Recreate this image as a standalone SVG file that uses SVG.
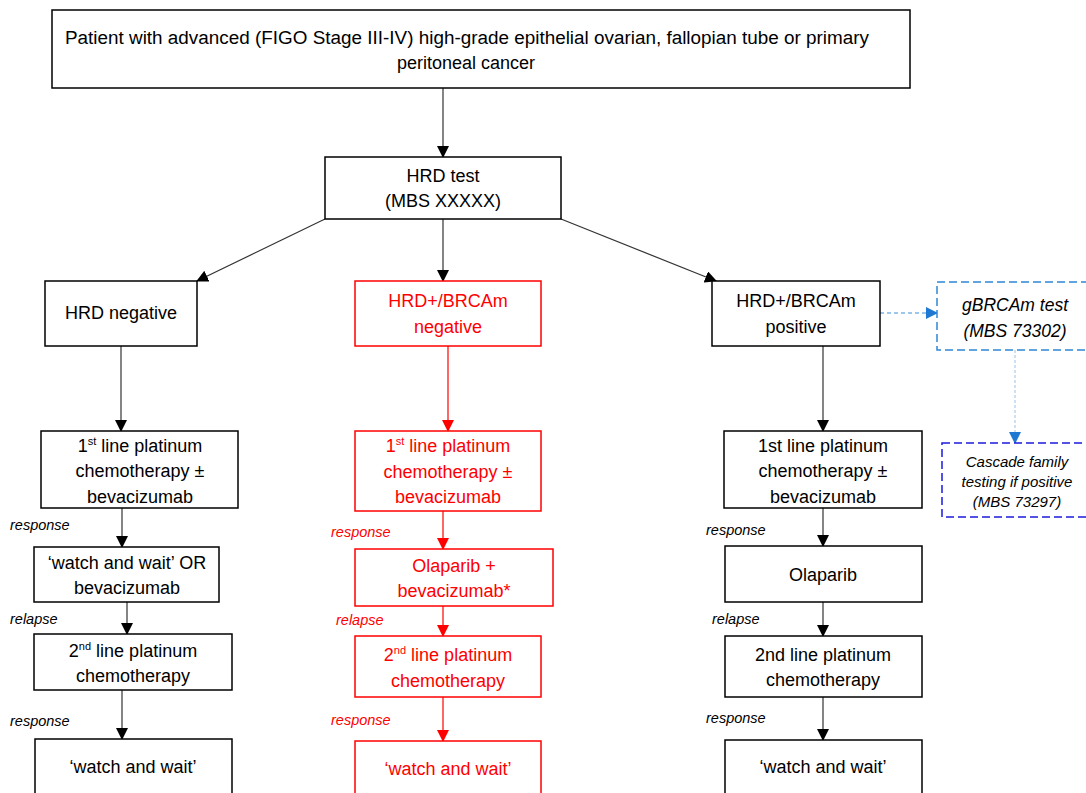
<svg xmlns="http://www.w3.org/2000/svg" width="1086" height="793" viewBox="0 0 1086 793">
<defs>
<style>
.box{fill:#fff;stroke:#000;stroke-width:1.5}
.rbox{fill:#fff;stroke:#ff0000;stroke-width:1.5}
.t{font-family:"Liberation Sans",Arial,sans-serif;font-size:18px;fill:#000;text-anchor:middle}
.rt{font-family:"Liberation Sans",Arial,sans-serif;font-size:18px;fill:#ff0000;text-anchor:middle}
.lab{font-family:"Liberation Sans",Arial,sans-serif;font-size:14.5px;font-style:italic;fill:#000}
.rlab{font-family:"Liberation Sans",Arial,sans-serif;font-size:14.5px;font-style:italic;fill:#ff0000}
.it{font-family:"Liberation Sans",Arial,sans-serif;font-style:italic;fill:#000;text-anchor:middle}
.ln{stroke:#333;stroke-width:1.2;fill:none}
.rln{stroke:#ff0000;stroke-width:1.2;fill:none}
.sup{font-size:11px}
</style>
<marker id="ah" markerWidth="12" markerHeight="12" refX="11" refY="6" orient="auto" markerUnits="userSpaceOnUse">
<path d="M0,0 L12,6 L0,12 Z" fill="#000"/>
</marker>
<marker id="rah" markerWidth="12" markerHeight="12" refX="11" refY="6" orient="auto" markerUnits="userSpaceOnUse">
<path d="M0,0 L12,6 L0,12 Z" fill="#ff0000"/>
</marker>
<marker id="bah" markerWidth="12" markerHeight="12" refX="11" refY="6" orient="auto" markerUnits="userSpaceOnUse">
<path d="M0,0 L12,6 L0,12 Z" fill="#1f78d1"/>
</marker>
</defs>
<rect width="1086" height="793" fill="#fff"/>

<g id="connectors">
<line class="ln" x1="443" y1="88" x2="443" y2="157" marker-end="url(#ah)"/>
<line class="ln" x1="325" y1="219" x2="197" y2="281" marker-end="url(#ah)"/>
<line class="ln" x1="443" y1="219" x2="443" y2="281" marker-end="url(#ah)"/>
<line class="ln" x1="561" y1="219" x2="716" y2="281" marker-end="url(#ah)"/>
<line x1="880" y1="313" x2="937" y2="313" stroke="#3a8fd8" stroke-width="1" stroke-dasharray="4,3" marker-end="url(#bah)"/>
<line x1="1015" y1="350" x2="1015" y2="443" stroke="#9cc3e6" stroke-width="1" stroke-dasharray="3,2" marker-end="url(#bah)"/>

<line class="ln" x1="121" y1="346" x2="121" y2="431" marker-end="url(#ah)"/>
<line class="ln" x1="122" y1="508" x2="122" y2="547" marker-end="url(#ah)"/>
<line class="ln" x1="127" y1="602" x2="127" y2="634" marker-end="url(#ah)"/>
<line class="ln" x1="122" y1="690" x2="122" y2="739" marker-end="url(#ah)"/>

<line class="rln" x1="448" y1="346" x2="448" y2="431" marker-end="url(#rah)"/>
<line class="rln" x1="443" y1="511" x2="443" y2="549" marker-end="url(#rah)"/>
<line class="rln" x1="443" y1="606" x2="443" y2="636" marker-end="url(#rah)"/>
<line class="rln" x1="443" y1="697" x2="443" y2="741" marker-end="url(#rah)"/>

<line class="ln" x1="823" y1="346" x2="823" y2="431" marker-end="url(#ah)"/>
<line class="ln" x1="823" y1="508" x2="823" y2="546" marker-end="url(#ah)"/>
<line class="ln" x1="823" y1="602" x2="823" y2="636" marker-end="url(#ah)"/>
<line class="ln" x1="823" y1="697" x2="823" y2="740" marker-end="url(#ah)"/>
</g>

<g id="labels">
<text class="lab" x="10" y="530">response</text>
<text class="lab" x="10" y="624">relapse</text>
<text class="lab" x="10" y="726">response</text>
<text class="rlab" x="331" y="537">response</text>
<text class="rlab" x="336" y="625">relapse</text>
<text class="rlab" x="331" y="725">response</text>
<text class="lab" x="706" y="535">response</text>
<text class="lab" x="712" y="624">relapse</text>
<text class="lab" x="706" y="723">response</text>
</g>

<g id="n-patient">
<rect class="box" x="52" y="10" width="858" height="78"/>
<text class="t" x="467" y="44" textLength="804" lengthAdjust="spacingAndGlyphs">Patient with advanced (FIGO Stage III-IV) high-grade epithelial ovarian, fallopian tube or primary</text>
<text class="t" x="466" y="69">peritoneal cancer</text>
</g>

<g id="n-hrdtest">
<rect class="box" x="325" y="157" width="236" height="62"/>
<text class="t" x="443" y="182">HRD test</text>
<text class="t" x="443" y="207">(MBS XXXXX)</text>
</g>

<g id="n-hrdneg">
<rect class="box" x="45" y="281" width="152" height="65"/>
<text class="t" x="121" y="319">HRD negative</text>
</g>

<g id="n-brcaneg">
<rect class="rbox" x="355" y="281" width="186" height="65"/>
<text class="rt" x="448" y="307">HRD+/BRCAm</text>
<text class="rt" x="448" y="333">negative</text>
</g>

<g id="n-brcapos">
<rect class="box" x="712" y="281" width="168" height="65"/>
<text class="t" x="796" y="307">HRD+/BRCAm</text>
<text class="t" x="796" y="333">positive</text>
</g>

<g id="n-gbrca">
<rect x="937" y="282" width="160" height="68" fill="#fff" stroke="#2e86d6" stroke-width="1.5" stroke-dasharray="8,4"/>
<text class="it" x="1015" y="311" font-size="17.5">gBRCAm test</text>
<text class="it" x="1015" y="337" font-size="17.5">(MBS 73302)</text>
</g>

<g id="n-cascade">
<rect x="942" y="443" width="155" height="74" fill="#fff" stroke="#1a1adb" stroke-width="1.5" stroke-dasharray="8,4"/>
<text class="it" x="1017" y="467" font-size="15">Cascade family</text>
<text class="it" x="1017" y="487" font-size="15">testing if positive</text>
<text class="it" x="1017" y="507" font-size="15">(MBS 73297)</text>
</g>

<g id="n-l1">
<rect class="box" x="41" y="431" width="197" height="77"/>
<text class="t" x="140" y="452">1<tspan class="sup" dy="-7">st</tspan><tspan dy="7"> line platinum</tspan></text>
<text class="t" x="140" y="477">chemotherapy ±</text>
<text class="t" x="140" y="503">bevacizumab</text>
</g>
<g id="n-l2">
<rect class="box" x="34" y="547" width="185" height="55"/>
<text class="t" x="127" y="569">‘watch and wait’ OR</text>
<text class="t" x="127" y="594">bevacizumab</text>
</g>
<g id="n-l3">
<rect class="box" x="34" y="634" width="198" height="56"/>
<text class="t" x="133" y="657">2<tspan class="sup" dy="-7">nd</tspan><tspan dy="7"> line platinum</tspan></text>
<text class="t" x="133" y="682">chemotherapy</text>
</g>
<g id="n-l4">
<rect class="box" x="35" y="739" width="197" height="70"/>
<text class="t" x="133" y="773">‘watch and wait’</text>
</g>

<g id="n-m1">
<rect class="rbox" x="355" y="431" width="186" height="80"/>
<text class="rt" x="448" y="452">1<tspan class="sup" dy="-7">st</tspan><tspan dy="7"> line platinum</tspan></text>
<text class="rt" x="448" y="478">chemotherapy ±</text>
<text class="rt" x="448" y="503">bevacizumab</text>
</g>
<g id="n-m2">
<rect class="rbox" x="355" y="549" width="198" height="57"/>
<text class="rt" x="454" y="572">Olaparib +</text>
<text class="rt" x="454" y="597">bevacizumab*</text>
</g>
<g id="n-m3">
<rect class="rbox" x="355" y="636" width="186" height="61"/>
<text class="rt" x="448" y="661">2<tspan class="sup" dy="-7">nd</tspan><tspan dy="7"> line platinum</tspan></text>
<text class="rt" x="448" y="687">chemotherapy</text>
</g>
<g id="n-m4">
<rect class="rbox" x="355" y="741" width="186" height="70"/>
<text class="rt" x="448" y="775">‘watch and wait’</text>
</g>

<g id="n-r1">
<rect class="box" x="724" y="431" width="198" height="77"/>
<text class="t" x="823" y="452">1st line platinum</text>
<text class="t" x="823" y="477">chemotherapy ±</text>
<text class="t" x="823" y="503">bevacizumab</text>
</g>
<g id="n-r2">
<rect class="box" x="725" y="546" width="197" height="56"/>
<text class="t" x="823" y="581">Olaparib</text>
</g>
<g id="n-r3">
<rect class="box" x="725" y="636" width="197" height="61"/>
<text class="t" x="823" y="661">2nd line platinum</text>
<text class="t" x="823" y="686">chemotherapy</text>
</g>
<g id="n-r4">
<rect class="box" x="725" y="740" width="197" height="70"/>
<text class="t" x="823" y="773">‘watch and wait’</text>
</g>
</svg>
